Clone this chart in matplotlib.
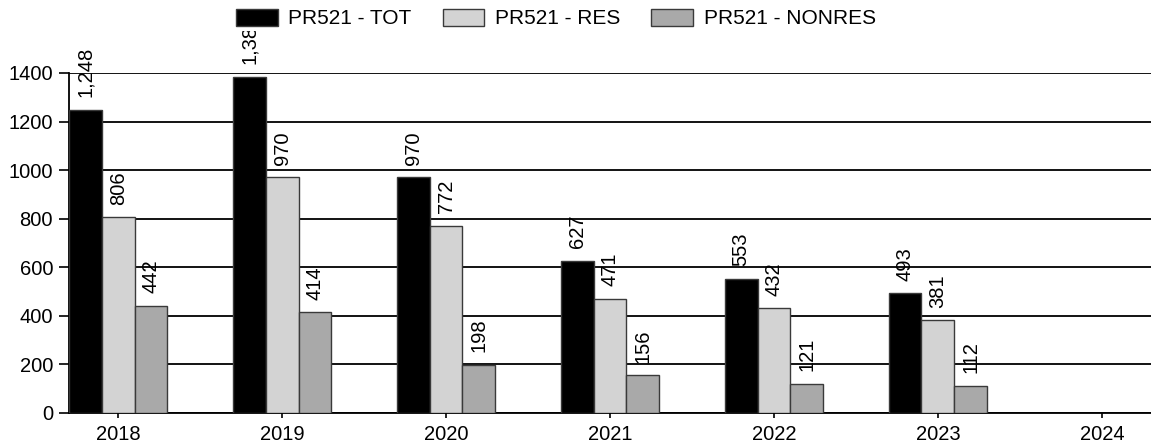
import matplotlib
matplotlib.use("Agg")
import matplotlib.pyplot as plt
import numpy as np

plt.rcParams['font.family'] = ['Liberation Sans', 'DejaVu Sans']

# data
years = ['2018', '2019', '2020', '2021', '2022', '2023', '2024']
tot = [1248, 1384, 970, 627, 553, 493]
res = [806, 970, 772, 471, 432, 381]
nonres = [442, 414, 198, 156, 121, 112]
series_names = ['PR521 - TOT', 'PR521 - RES', 'PR521 - NONRES']
yticks = [0, 200, 400, 600, 800, 1000, 1200, 1400]

colors = ['#000000', '#d3d3d3', '#a9a9a9']

fig = plt.figure(figsize=(11.51, 4.45), dpi=100)
ax = fig.add_axes([69 / 1151, 32 / 445, 1 - 69 / 1151, 340 / 445])

x = np.arange(len(years))
w = 0.2
for i, vals in enumerate([tot, res, nonres]):
    xs = x[:len(vals)] + (i - 1) * w
    ax.bar(xs, vals, width=w, color=colors[i], edgecolor='#3a3a3a',
           linewidth=1.0, label=series_names[i], zorder=3)
    # value labels
    for xi, v in zip(xs, vals):
        ax.annotate(f'{v:,}', (xi, v), xytext=(0, 9), textcoords='offset points',
                    rotation=90, ha='center', va='bottom', fontsize=14.5,
                    annotation_clip=False, zorder=4)

ax.set_xlim(-0.3, len(years) - 1 + 0.3)
ax.set_ylim(0, 1400)
ax.set_xticks(x)
ax.set_xticklabels(years)
ax.set_yticks(yticks)
ax.yaxis.grid(True, color='black', linewidth=1.3)
ax.set_axisbelow(True)
for s in ['top', 'right']:
    ax.spines[s].set_visible(False)
ax.spines['left'].set_linewidth(1.3)
ax.spines['bottom'].set_linewidth(1.3)
ax.tick_params(axis='y', length=7.5, width=1.2, pad=4, labelsize=14.5)
ax.tick_params(axis='x', length=3.6, width=1.2, pad=5, labelsize=14.5)

leg = fig.legend(loc='center', bbox_to_anchor=(0.483, 1 - 18.5 / 445), ncol=3,
                 fontsize=15, frameon=True, fancybox=False, borderpad=0.1,
                 handlelength=2.0, handleheight=0.9, handletextpad=0.5,
                 columnspacing=1.5)
leg.get_frame().set_facecolor('white')
leg.get_frame().set_edgecolor('none')
leg.get_frame().set_alpha(1)
leg.set_zorder(10)

fig.savefig('out.png', dpi=100)
